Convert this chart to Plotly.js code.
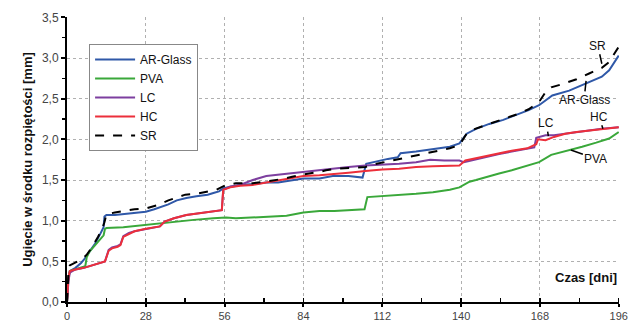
<!DOCTYPE html>
<html>
<head>
<meta charset="utf-8">
<script src="https://cdn.plot.ly/plotly-3.0.1.min.js"></script>
<style>html,body{margin:0;padding:0;background:#fff;}#chart{width:629px;height:323px;}</style>
</head>
<body>
<div id="chart"></div>
<script>
// AR-Glass
const arDays = [0,0.5,1,3,5,6,8,10,12,13,13.3,14,17,20,24,28,31,33.5,36,39,42.4,46,50,52,54,55.6,58,61.5,66,70.8,75,80,84,89.7,94.4,100,105,106.3,110,114,117.5,118.5,124,130,136,139.4,142,145.3,150,155,159.5,164,167.7,172.4,178.4,185.5,190,192.6,196];
const arVals = [0,0.30,0.38,0.42,0.48,0.52,0.62,0.72,0.85,0.92,1.05,1.07,1.07,1.08,1.09,1.11,1.14,1.17,1.20,1.25,1.28,1.30,1.32,1.34,1.36,1.40,1.42,1.44,1.45,1.47,1.47,1.50,1.52,1.52,1.55,1.55,1.53,1.70,1.73,1.76,1.78,1.83,1.85,1.88,1.91,1.95,2.07,2.13,2.19,2.24,2.30,2.36,2.42,2.54,2.60,2.71,2.77,2.85,3.03];
// PVA
const pvaDays = [0,0.5,1,3,5,6.5,7,8,10,12,13,13.5,14,20,28,33,38,45,52,56.5,60,65,70.8,78,84,89.7,95,100,105.7,106.7,112,118,124,130,136,139.4,143,145.3,149,153.5,158,163,167.7,172,178,183,188,192.6,196];
const pvaVals = [0,0.30,0.38,0.40,0.42,0.44,0.55,0.62,0.70,0.78,0.82,0.90,0.91,0.92,0.95,0.97,0.99,1.01,1.03,1.04,1.03,1.04,1.05,1.06,1.10,1.12,1.12,1.13,1.14,1.29,1.30,1.31,1.33,1.35,1.38,1.41,1.48,1.50,1.54,1.58,1.62,1.67,1.72,1.81,1.86,1.91,1.96,2.01,2.09];
// LC
const lcDays = [0,0.5,1,3,6,9,11.7,13.5,14.8,16,18,19,20,22,24,28,33,34.7,38,42.4,47,51.8,55,55.5,58,61.5,66,70.8,76,80,84,89.7,94,100,106,112,118,124,129,134,139.4,141,147,153.5,158,163.5,166,166.7,168,170,173,177,181,185.5,190,196];
const lcVals = [0,0.25,0.36,0.40,0.42,0.45,0.48,0.50,0.64,0.67,0.69,0.71,0.81,0.85,0.87,0.90,0.93,0.99,1.03,1.07,1.09,1.11,1.13,1.38,1.42,1.44,1.50,1.55,1.57,1.59,1.60,1.62,1.64,1.66,1.68,1.69,1.70,1.72,1.75,1.74,1.74,1.72,1.77,1.82,1.85,1.88,1.90,2.02,2.03,2.05,2.05,2.07,2.09,2.11,2.13,2.15];
// HC
const hcDays = [0,0.5,1,3,6,9,11.7,13.5,14.8,16,18,19,20,22,24,28,33,34.7,38,42.4,47,51.8,55,55.5,58,61.5,66,70.8,76,80,84,89.7,94,100,106,112,118,124,130,139.4,141.5,147,153.5,158,163.5,166.7,167.3,170,173,177,181,185.5,190,196];
const hcVals = [0,0.30,0.38,0.40,0.42,0.45,0.48,0.50,0.63,0.66,0.68,0.70,0.80,0.84,0.87,0.90,0.93,0.99,1.03,1.07,1.09,1.11,1.13,1.38,1.41,1.43,1.44,1.47,1.50,1.53,1.55,1.56,1.57,1.59,1.61,1.63,1.64,1.66,1.67,1.68,1.74,1.78,1.83,1.86,1.89,1.94,2.00,1.99,2.03,2.07,2.09,2.11,2.13,2.15];
// SR
const srDays = [0,0.5,1,3,5,7,9,11,12.5,13.3,14,17,20,24,28,32,36,40,42,46,50,53,56.5,60,66,70.8,76,80,84,89.7,92,96,100,106,110,114,118,124,130,136,139.4,142,145,150,155,160,164,167.7,170,172,176,181,185.5,190,192.6,196];
const srVals = [0,0.35,0.45,0.48,0.52,0.58,0.68,0.80,0.90,0.98,1.08,1.10,1.12,1.14,1.15,1.19,1.25,1.30,1.32,1.33,1.36,1.38,1.44,1.46,1.46,1.48,1.51,1.54,1.57,1.60,1.62,1.64,1.65,1.66,1.70,1.73,1.76,1.80,1.85,1.89,1.93,2.07,2.13,2.19,2.25,2.31,2.37,2.46,2.58,2.64,2.68,2.74,2.81,2.88,2.95,3.14];

const seriesNames = ['AR-Glass','PVA','LC','HC','SR'];
const xTickVals = [0,28,56,84,112,140,168,196];
const xTickText = ['0','28','56','84','112','140','168','196'];
const yTickVals = [0,0.5,1,1.5,2,2.5,3,3.5];
const yTickText = ['0,0','0,5','1,0','1,5','2,0','2,5','3,0','3,5'];

const FONT = 'Liberation Sans, Arial, sans-serif';

const traces = [
  {x: arDays, y: arVals, name: seriesNames[0], mode:'lines', line:{color:'#2f58a8', width:2}},
  {x: pvaDays, y: pvaVals, name: seriesNames[1], mode:'lines', line:{color:'#3aa83a', width:2}},
  {x: lcDays, y: lcVals, name: seriesNames[2], mode:'lines', line:{color:'#7d3f9f', width:2}},
  {x: hcDays, y: hcVals, name: seriesNames[3], mode:'lines', line:{color:'#ec2f3b', width:2}},
  {x: srDays, y: srVals, name: seriesNames[4], mode:'lines', line:{color:'#000000', width:2, dash:'dash'}}
];

const annFont = {family: FONT, size: 12, color: '#111'};
const layout = {
  width: 629, height: 323,
  margin: {l: 67, r: 10, t: 17, b: 21},
  paper_bgcolor: '#fff', plot_bgcolor: '#fff',
  showlegend: true,
  legend: {x: 0.04, y: 0.905, xanchor: 'left', yanchor: 'top', bgcolor: '#fff',
           bordercolor: '#888', borderwidth: 1, font: {family: FONT, size: 12, color: '#111'},
           tracegroupgap: 0, itemwidth: 40},
  xaxis: {range: [0, 196.1], tickvals: xTickVals, ticktext: xTickText,
          showgrid: true, gridcolor: '#b0b0b0', griddash: 'dot', gridwidth: 1,
          showline: true, linecolor: '#000', linewidth: 2, zeroline: false,
          ticks: 'outside', ticklen: 3, tickwidth: 2, tickcolor: '#000',
          minor: {dtick: 14, tick0: 0, ticks: 'inside', ticklen: 4, tickwidth: 1.5, tickcolor: '#000', showgrid: false},
          tickfont: {family: FONT, size: 11, color: '#444'}},
  yaxis: {range: [0, 3.505], tickvals: yTickVals, ticktext: yTickText,
          showgrid: true, gridcolor: '#b0b0b0', griddash: 'dot', gridwidth: 1,
          showline: true, linecolor: '#000', linewidth: 2, zeroline: false,
          ticks: 'outside', ticklen: 4, tickwidth: 2, tickcolor: '#000',
          minor: {dtick: 0.25, tick0: 0, ticks: 'outside', ticklen: 3, tickwidth: 1.5, tickcolor: '#000', showgrid: false},
          tickfont: {family: FONT, size: 12, color: '#444'},
          title: {text: 'Ugięcie w środku rozpiętości [mm]', standoff: 6,
                  font: {family: FONT, size: 13, color: '#111', weight: 'bold'}}},
  annotations: [
    {xref:'paper', yref:'paper', x: 1.0, y: 0.085, xanchor:'right', yanchor:'middle', showarrow:false,
     text:'Czas [dni]', font:{family: FONT, size: 13, color:'#111', weight:'bold'}},
    {x: 190, y: 2.93, text: 'SR', showarrow: true, arrowhead: 0, arrowwidth: 1.5, arrowcolor:'#000', ax: -4, ay: -18, font: annFont, standoff: 0},
    {x: 184.4, y: 2.72, text: 'AR-Glass', showarrow: true, arrowhead: 0, arrowwidth: 1.5, arrowcolor:'#000', ax: -2, ay: 19, font: annFont, standoff: 0},
    {x: 171, y: 2.04, text: 'LC', showarrow: true, arrowhead: 0, arrowwidth: 1.5, arrowcolor:'#000', ax: -2, ay: -13, font: annFont, standoff: 0},
    {x: 190.4, y: 2.13, text: 'HC', showarrow: true, arrowhead: 0, arrowwidth: 1.5, arrowcolor:'#000', ax: -4, ay: -12, font: annFont, standoff: 0},
    {x: 179, y: 1.87, text: 'PVA', showarrow: true, arrowhead: 0, arrowwidth: 1.5, arrowcolor:'#000', ax: 25, ay: 9, font: annFont, standoff: 0}
  ]
};

Plotly.newPlot('chart', traces, layout, {displayModeBar: false, staticPlot: true});
</script>
</body>
</html>
